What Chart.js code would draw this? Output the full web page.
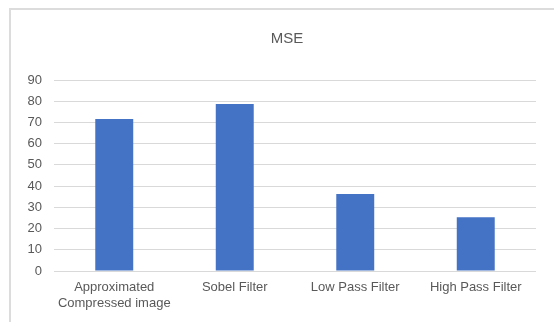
<!DOCTYPE html>
<html>
<head>
<meta charset="utf-8">
<script src="https://cdn.jsdelivr.net/npm/chart.js@4"></script>
<style>
  html, body { margin: 0; padding: 0; background: #ffffff; }
  #wrap { position: relative; width: 554px; height: 322px; overflow: hidden; }
  #frame { position: absolute; left: 9px; top: 8px; width: 600px; height: 400px;
           border: 2px solid #dcdcdc; box-sizing: border-box; pointer-events: none; }
  canvas { position: absolute; left: 0; top: 0; }
</style>
</head>
<body>
<div id="wrap">
  <div id="frame"></div>
  <canvas id="chart" width="554" height="322"></canvas>
</div>
<script>
// MSE per method
const categories = [
  ["Approximated", "Compressed image"],
  "Sobel Filter",
  "Low Pass Filter",
  "High Pass Filter"
];
const mseValues = [71.6, 78.7, 36.3, 25.3];
const yTicks = [0, 10, 20, 30, 40, 50, 60, 70, 80, 90];
const chartTitle = "MSE";

const FONT = "'Liberation Sans', Arial, sans-serif";
const TEXT = "#595959";

// Title centred on the framed panel rather than on the canvas
const panelTitle = {
  id: "panelTitle",
  afterDraw(chart) {
    const ctx = chart.ctx;
    ctx.save();
    ctx.fillStyle = TEXT;
    ctx.font = "15px " + FONT;
    ctx.textAlign = "center";
    ctx.textBaseline = "middle";
    ctx.fillText(chartTitle, 287, 39);
    ctx.restore();
  }
};

new Chart(document.getElementById("chart"), {
  type: "bar",
  data: {
    labels: categories,
    datasets: [{
      label: chartTitle,
      data: mseValues,
      backgroundColor: "#4472C4",
      borderWidth: 0,
      categoryPercentage: 1,
      barPercentage: 0.315
    }]
  },
  options: {
    responsive: false,
    animation: false,
    devicePixelRatio: 1,
    layout: { padding: { left: 0, right: 18, top: 80, bottom: 0 } },
    plugins: {
      legend: { display: false },
      tooltip: { enabled: false },
      title: { display: false }
    },
    scales: {
      x: {
        grid: { display: false, drawTicks: false },
        border: { display: false },
        ticks: {
          color: TEXT,
          font: { family: FONT, size: 13, lineHeight: 1.23 },
          padding: 8,
          maxRotation: 0,
          autoSkip: false
        },
        afterFit: (s) => { s.height = 51; }
      },
      y: {
        min: yTicks[0],
        max: yTicks[yTicks.length - 1],
        afterBuildTicks: (s) => { s.ticks = yTicks.map(v => ({ value: v })); },
        grid: { color: "#d9d9d9", lineWidth: 1, drawTicks: false },
        border: { display: false },
        ticks: {
          color: TEXT,
          font: { family: FONT, size: 13 },
          padding: 12
        },
        afterFit: (s) => { s.width = 54; }
      }
    }
  },
  plugins: [panelTitle]
});
</script>
</body>
</html>
